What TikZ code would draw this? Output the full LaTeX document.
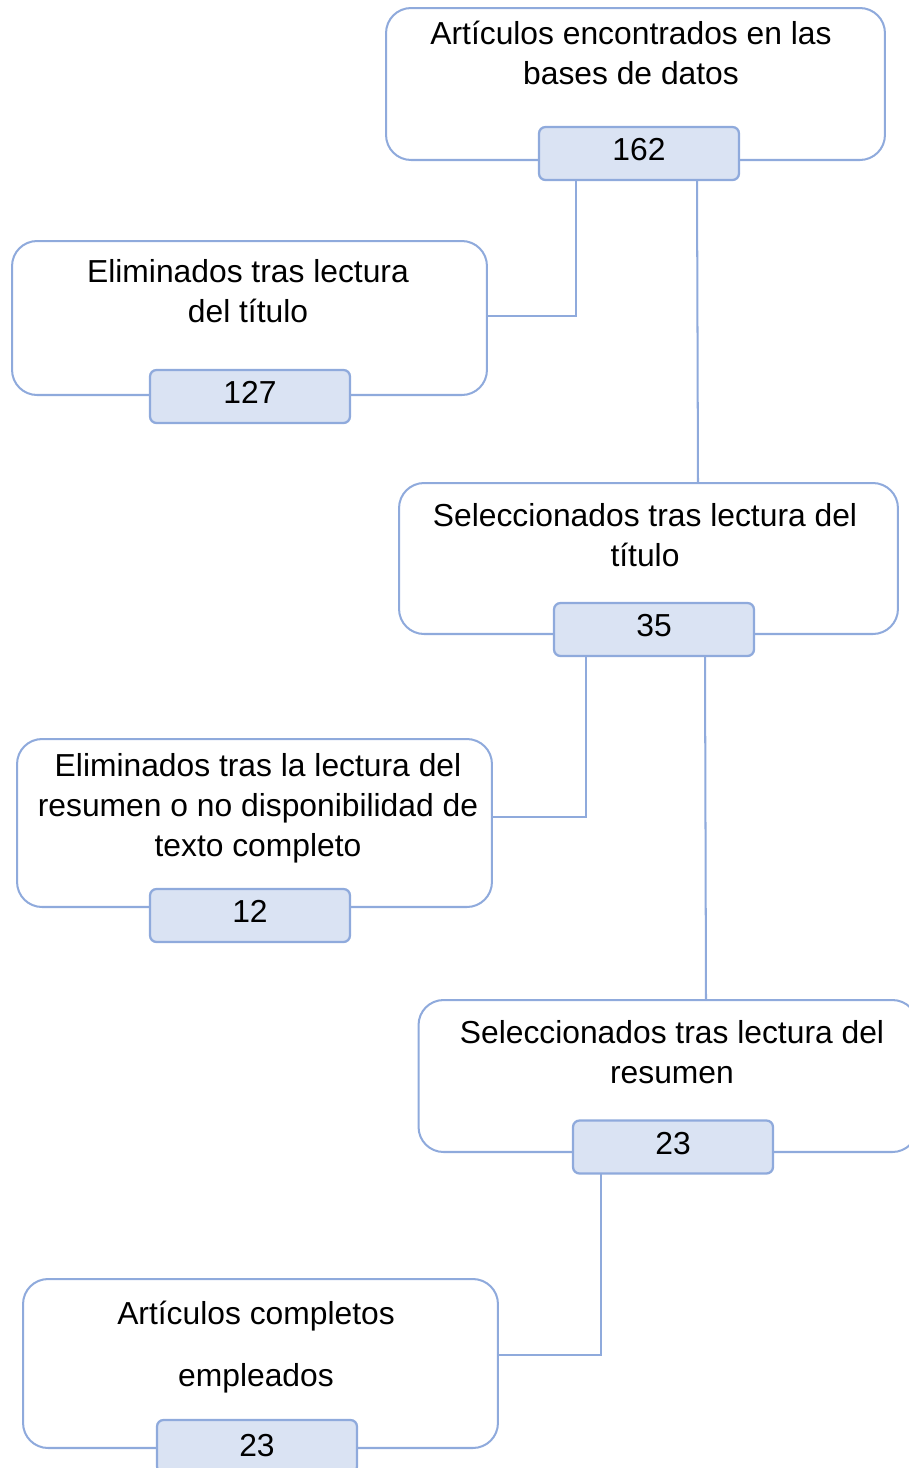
\documentclass[tikz,border=0pt]{standalone}
\usepackage{fontspec}
\setmainfont{Liberation Sans}
\usetikzlibrary{calc}
\definecolor{frameblue}{HTML}{8FAADC}
\definecolor{countfill}{HTML}{DAE3F3}

\tikzset{
  stagebox/.style={draw=frameblue, line width=1.15pt, rounded corners=0.5cm,
    inner sep=0pt, outer sep=0pt},
  countbox/.style={draw=frameblue, fill=countfill, line width=1.3pt, rounded corners=0.13cm,
    minimum width=4cm, minimum height=1.06cm, inner sep=0pt, outer sep=0pt,
    text height=12.9pt, text depth=4.5pt, font=\fontsize{18.1}{22.8}\selectfont},
  stagetext/.style={align=center, font=\fontsize{18.1}{22.8}\selectfont},
  link/.style={draw=frameblue, line width=1.15pt}
}

\begin{document}
\begin{tikzpicture}[x=0.02cm, y=-0.02cm]
    \useasboundingbox (0,0) rectangle (909,1468);
    % etapas
    \node[stagebox, minimum width=9.98cm, minimum height=3.04cm] (encontrados) at (635.5,84) {};
    \node[stagebox, minimum width=9.5cm, minimum height=3.08cm] (elimtitulo) at (249.5,318) {};
    \node[stagebox, minimum width=9.98cm, minimum height=3.02cm] (seltitulo) at (648.5,558.5) {};
    \node[stagebox, minimum width=9.5cm, minimum height=3.36cm] (elimresumen) at (254.5,823) {};
    \node[stagebox, minimum width=9.98cm, minimum height=3.04cm] (selresumen) at (668,1076) {};
    \node[stagebox, minimum width=9.5cm, minimum height=3.38cm] (completos) at (260.5,1363.5) {};
    % textos
    \node[stagetext] (tencontrados) at (631,53) {Artículos encontrados en las\\bases de datos};
    \node[stagetext] (telimtitulo) at (248,291) {Eliminados tras lectura\\del título};
    \node[stagetext] (tseltitulo) at (645,535) {Seleccionados tras lectura del\\título};
    \node[stagetext] (telimresumen) at (258,808) {Eliminados tras la lectura del\\resumen o no disponibilidad de\\texto completo};
    \node[stagetext, font=\fontsize{18.1}{35}\selectfont] (tselresumen) at (672,1052) {Seleccionados tras lectura del\\[-12.2pt]resumen};
    \node[stagetext, font=\fontsize{18.1}{35}\selectfont] (tcompletos) at (256,1347) {Artículos completos\\empleados};
    % conteos
    \node[countbox] (c162) at (639,153.5) {162};
    \node[countbox] (c127) at (250,396.5) {127};
    \node[countbox] (c35) at (654,629.5) {35};
    \node[countbox] (c12) at (250,915.5) {12};
    \node[countbox] (c23a) at (673,1147) {23};
    \node[countbox, text depth=1.5pt] (c23b) at (257,1446.5) {23};
    % puntos de salida
    \coordinate (s162a) at ($(c162.south)+(-63,0)$);
    \coordinate (s162b) at ($(c162.south)+(58,0)$);
    \coordinate (e162b) at ($(seltitulo.north)+(49.5,0)$);
    \coordinate (s35a) at ($(c35.south)+(-68,0)$);
    \coordinate (s35b) at ($(c35.south)+(51,0)$);
    \coordinate (e35b) at ($(selresumen.north)+(38,0)$);
    \coordinate (s23a) at ($(c23a.south)+(-72,0)$);
    % conectores
    \draw[link] ([yshift=0.04cm]elimtitulo.east) -| (s162a);
    \draw[link] (s162b) -- (e162b);
    \draw[link] ([yshift=0.12cm]elimresumen.east) -| (s35a);
    \draw[link] (s35b) -- (e35b);
    \draw[link] ([yshift=0.17cm]completos.east) -| (s23a);
\end{tikzpicture}
\end{document}
